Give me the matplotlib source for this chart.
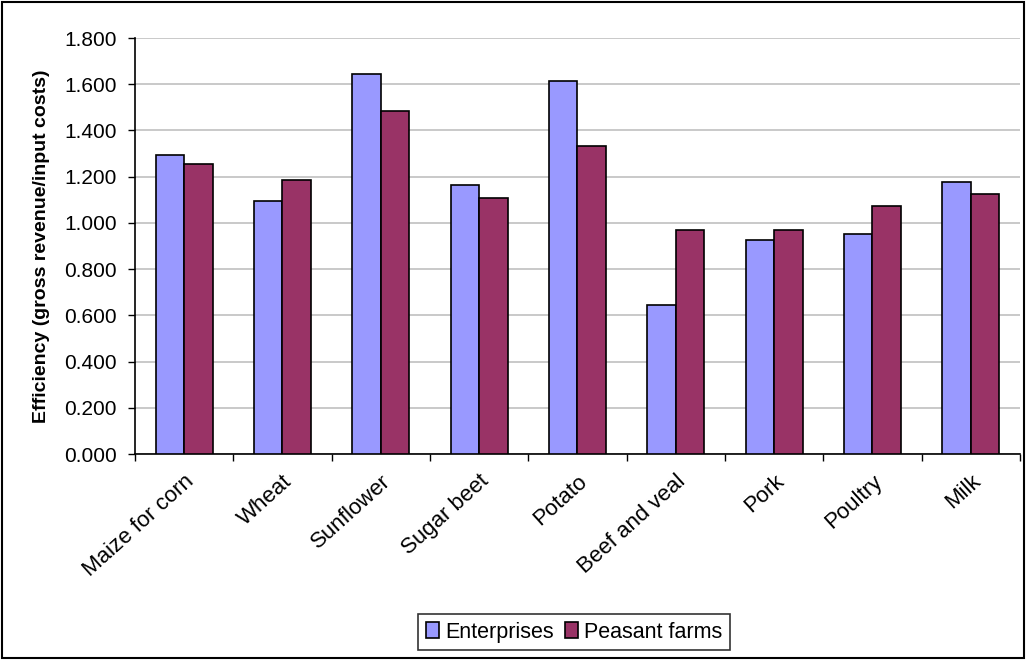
import matplotlib
matplotlib.use('Agg')
import numpy as np
import matplotlib.pyplot as plt
import matplotlib.transforms as mtransforms
from matplotlib.patches import Rectangle

plt.rcParams['font.family'] = ['Liberation Sans', 'DejaVu Sans']

categories = ['Maize for corn', 'Wheat', 'Sunflower', 'Sugar beet', 'Potato',
              'Beef and veal', 'Pork', 'Poultry', 'Milk']
enterprises = [1.293, 1.093, 1.643, 1.162, 1.613, 0.643, 0.927, 0.954, 1.177]
peasant_farms = [1.257, 1.185, 1.485, 1.106, 1.333, 0.970, 0.970, 1.072, 1.127]

fig = plt.figure(figsize=(10.26, 6.6), dpi=100)
ax = fig.add_axes([0.1316, 0.312, 0.8624, 0.6304])

x = np.arange(len(categories))
w = 0.29
ax.bar(x - w/2, enterprises, w, color='#9999FF', edgecolor='black', linewidth=1.2,
       label='Enterprises', zorder=3)
ax.bar(x + w/2, peasant_farms, w, color='#993366', edgecolor='black', linewidth=1.2,
       label='Peasant farms', zorder=3)

ax.set_xlim(-0.5, len(categories) - 0.5)
ax.set_ylim(0, 1.8)
ax.set_yticks(np.arange(0, 1.81, 0.2))
ax.set_yticklabels(['%.3f' % v for v in np.arange(0, 1.81, 0.2)], fontsize=15)
ax.yaxis.grid(True, color='#C0C0C0', linewidth=1.2, zorder=0)
ax.set_axisbelow(True)

# category ticks between groups, labels at centres
ax.set_xticks(np.arange(-0.5, len(categories), 1.0))
ax.set_xticklabels([])
ax.set_xticks(x, minor=True)
ax.set_xticklabels(categories, minor=True, rotation=42, ha='right', va='top',
                   rotation_mode='anchor', fontsize=16)
shift = mtransforms.ScaledTranslation(22/100, 0, fig.dpi_scale_trans)
for lbl in ax.get_xticklabels(minor=True):
    lbl.set_transform(lbl.get_transform() + shift)
ax.tick_params(axis='x', which='minor', length=0, pad=12)
ax.tick_params(axis='x', which='major', length=5, direction='out', width=1)
ax.tick_params(axis='y', length=5, direction='out', width=1, pad=8)

for s in ['top', 'right']:
    ax.spines[s].set_visible(False)
ax.spines['left'].set_linewidth(1.2)
ax.spines['bottom'].set_linewidth(1.2)

ax.set_ylabel('Efficiency (gross revenue/input costs)', fontsize=14,
              fontweight='bold', labelpad=10)

leg = fig.legend(loc='center', bbox_to_anchor=(0.5595, 0.0424), ncol=2, fontsize=15.5,
                 frameon=True, fancybox=False, edgecolor='black',
                 handlelength=0.6, handleheight=0.8, handletextpad=0.3,
                 columnspacing=0.5, borderpad=0.35)
leg.get_frame().set_linewidth(1.2)

fig.patches.append(Rectangle((0.002, 0.003), 0.996, 0.994, transform=fig.transFigure,
                             fill=False, edgecolor='black', linewidth=1.5))

plt.savefig('out.png', dpi=100)
